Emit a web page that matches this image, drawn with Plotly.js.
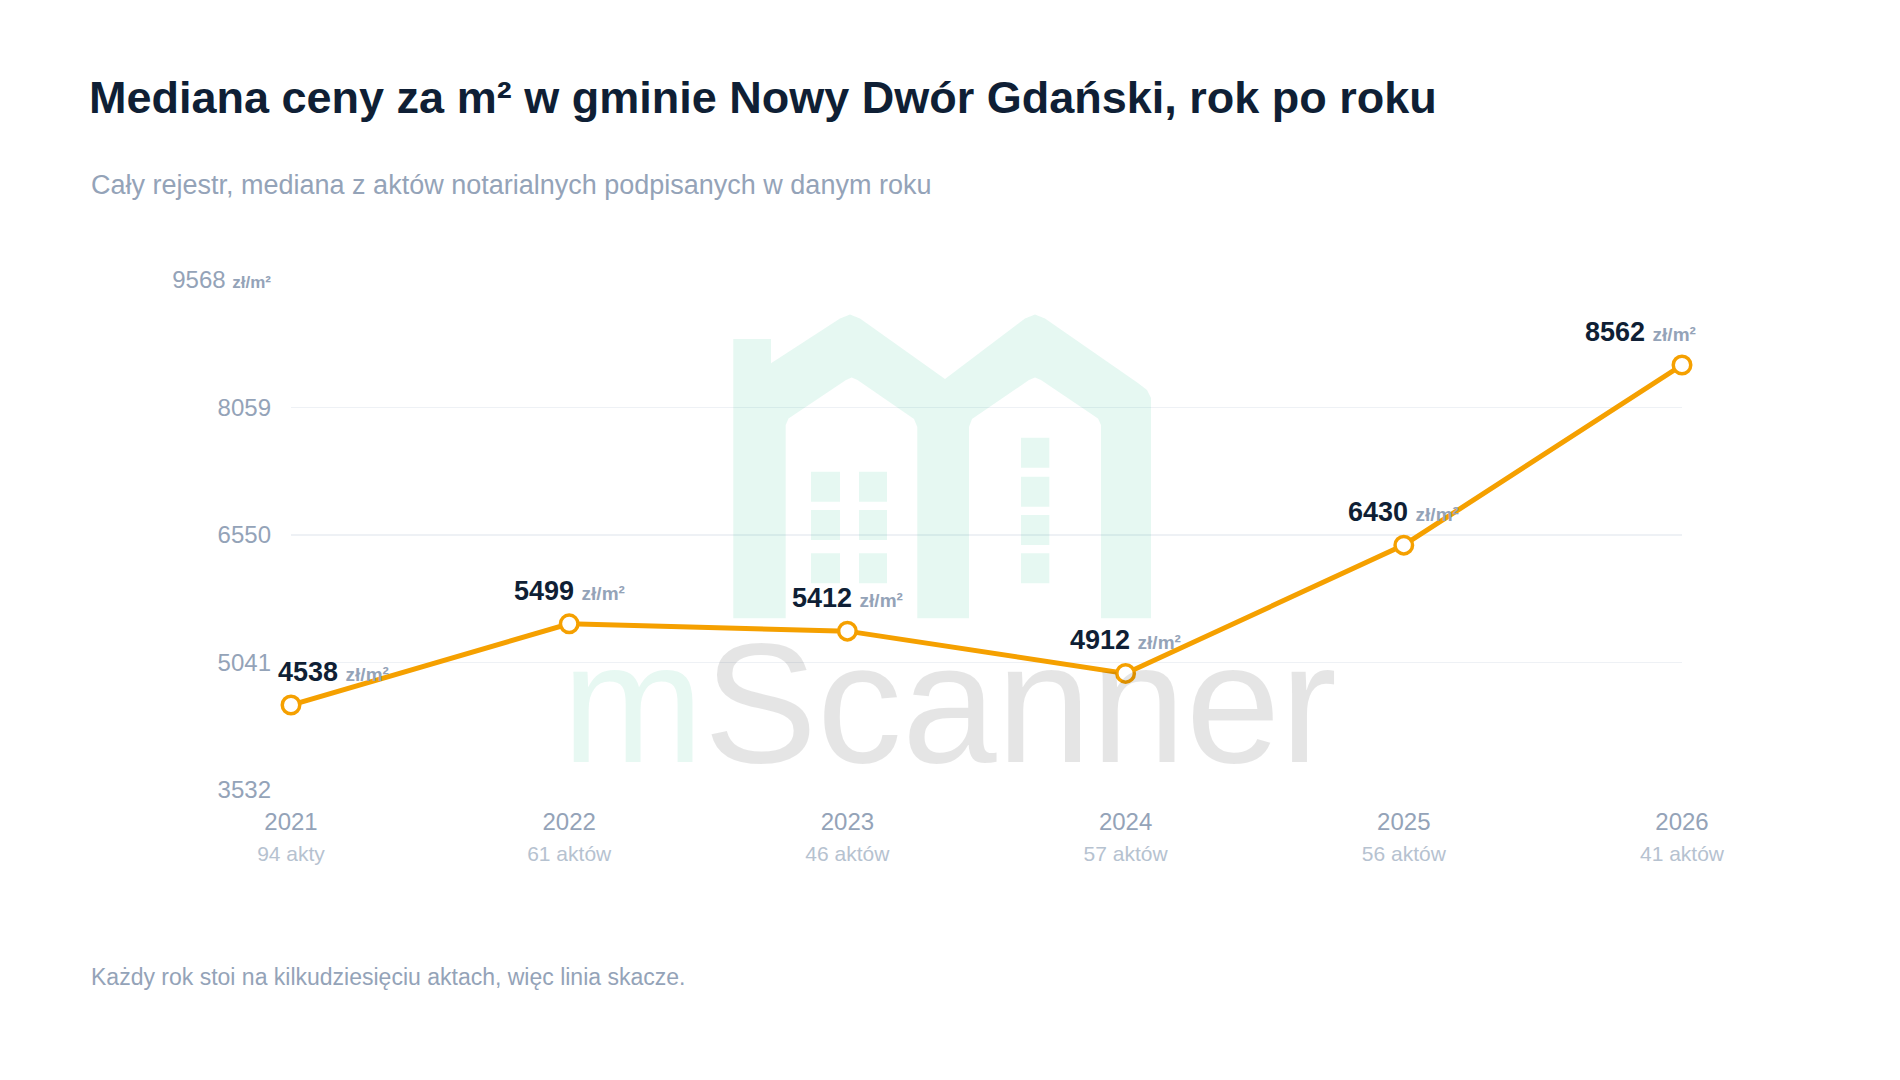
<!DOCTYPE html>
<html><head><meta charset="utf-8">
<script src="https://cdn.plot.ly/plotly-3.0.1.min.js"></script>
<style>html,body{margin:0;padding:0;background:#fff;} #chart{width:1900px;height:1080px;}</style>
</head><body><div id="chart"></div>
<script>
// ---- data ----
const years = [2021, 2022, 2023, 2024, 2025, 2026];
const medianPrice = [4538, 5499, 5412, 4912, 6430, 8562];
const deedCounts = [94, 61, 46, 57, 56, 41];
const deedWords = ['akty', 'aktów', 'aktów', 'aktów', 'aktów', 'aktów'];
const yTickValues = [3532, 5041, 6550, 8059, 9568];
const unitLabel = 'zł/m²';
const titleText = 'Mediana ceny za m² w gminie Nowy Dwór Gdański, rok po roku';
const subtitleText = 'Cały rejestr, mediana z aktów notarialnych podpisanych w danym roku';
const footerText = 'Każdy rok stoi na kilkudziesięciu aktach, więc linia skacze.';
const watermarkText = ['m', 'Scanner'];

// ---- style ----
const FONT = 'Liberation Sans, Arial, Helvetica, sans-serif';
const DARK = '#0f1f35';
const MUTED = '#94a3b8';
const LIGHT = '#b6c2d0';
const ORANGE = '#f5a000';
const MINT_T = 'rgba(16,185,129,0.105)';
const EMERALD = 'rgb(16,185,129)';
const GRAY_T = 'rgba(0,0,0,0.1)';

// layout geometry in pixels
const W = 1900, H = 1080;
const M = {l: 291, r: 218, t: 280, b: 290};
const PW = W - M.l - M.r, PH = H - M.t - M.b;
const px = x => (x - M.l) / PW;
const py = y => (H - M.b - y) / PH;

const yTickText = yTickValues.map((v, i) => i === yTickValues.length - 1
  ? `${v} <span style="font-size:17px;font-weight:bold">${unitLabel}</span>` : `${v}`);
const xTickText = years.map((y, i) =>
  `${y}<br><span style="font-size:21px;fill:${LIGHT}">${deedCounts[i]} ${deedWords[i]}</span>`);

const trace = {
  x: years, y: medianPrice, type: 'scatter', mode: 'lines+markers',
  line: {color: ORANGE, width: 5},
  marker: {size: 17.5, color: '#ffffff', line: {color: ORANGE, width: 3.5}},
  cliponaxis: false, hoverinfo: 'x+y'
};

const last = years.length - 1;
const valueAnnotations = years.map((yr, i) => ({
  x: yr, y: medianPrice[i], xref: 'x', yref: 'y', showarrow: false,
  xanchor: i === 0 ? 'left' : (i === last ? 'right' : 'center'),
  xshift: i === 0 ? -15 : (i === last ? 15.5 : 0),
  yanchor: 'middle', yshift: 33,
  text: `<b>${medianPrice[i]}</b> <span style="font-size:19px;fill:${MUTED}"><b>${unitLabel}</b></span>`,
  font: {family: FONT, size: 27, color: DARK}
}));

// ---- watermark logo (decoration, pixel coordinates) ----
function sub(pts) {
  return 'M ' + pts.map(p => `${px(p[0]).toFixed(5)},${py(p[1]).toFixed(5)}`).join(' L ') + ' Z';
}
function rectPts(x0, x1, y0, y1) { return [[x0, y1], [x0, y0], [x1, y0], [x1, y1]]; }
const BOT = 618.3;
const outer = [[733.3,BOT],[733.3,339],[771,339],[771,363.3],[840,318.5],[850,314.5],[860,318.5],
  [945,379],[1025,318.5],[1035,314.5],[1045,318.5],[1138.3,383.3],[1147,390],[1151,398],[1151,BOT]];
const innerL = [[785.7,BOT],[785.7,425],[788.5,418.5],[846,380],[851.7,377.5],[857.5,380],[914,419],[917.3,427],[917.3,BOT]];
const innerR = [[969,BOT],[969,427],[972,419],[1029,380],[1035,377.5],[1041,380],[1098,418.5],[1101,425],[1101,BOT]];
const winColsL = [[811,840],[859,887]];
const winRowsL = [[471.7,501.7],[510,540],[553.3,583.3]];
const winColR = [1021,1049.3];
const winRowsR = [[437.7,467.7],[476.7,506.7],[515,545],[553.3,583.3]];

let logoPath = sub(outer) + ' ' + sub(innerL.slice().reverse()) + ' ' + sub(innerR.slice().reverse());
winColsL.forEach(c => winRowsL.forEach(r => { logoPath += ' ' + sub(rectPts(c[0], c[1], r[0], r[1])); }));
winRowsR.forEach(r => { logoPath += ' ' + sub(rectPts(winColR[0], winColR[1], r[0], r[1])); });

const shapes = [
  {type: 'path', xref: 'paper', yref: 'paper', path: logoPath, fillcolor: MINT_T,
    line: {width: 0}, layer: 'above'}
];

const layout = {
  width: W, height: H, margin: M, paper_bgcolor: '#ffffff', plot_bgcolor: '#ffffff',
  showlegend: false,
  title: {text: `<b>${titleText}</b>`, x: 89 / W, xref: 'container', xanchor: 'left',
    y: 1 - 97 / H, yref: 'container', yanchor: 'middle', font: {family: FONT, size: 45, color: DARK}},
  xaxis: {range: [years[0], years[last]], tickvals: years, ticktext: xTickText, showgrid: false,
    zeroline: false, showline: false, ticks: '', ticklabelstandoff: 15,
    tickfont: {family: FONT, size: 24, color: MUTED}, fixedrange: true},
  yaxis: {range: [yTickValues[0], yTickValues[yTickValues.length - 1]], tickvals: yTickValues, ticktext: yTickText,
    showgrid: true, gridcolor: '#eef1f5', gridwidth: 1.5, zeroline: false, showline: false, ticks: '',
    ticklabelstandoff: 19, tickfont: {family: FONT, size: 24, color: MUTED}, fixedrange: true},
  shapes: shapes,
  annotations: [
    {text: `<span style="fill:${EMERALD}">${watermarkText[0]}</span>${watermarkText[1]}`,
      xref: 'paper', yref: 'paper', x: px(949.8), y: py(703), xanchor: 'center', yanchor: 'middle',
      showarrow: false, font: {family: FONT, size: 170, color: GRAY_T}}
  ].concat(valueAnnotations).concat([
    {text: subtitleText, xref: 'paper', yref: 'paper', x: px(88.5), y: py(185), xanchor: 'left', yanchor: 'middle',
      showarrow: false, font: {family: FONT, size: 27, color: MUTED}},
    {text: footerText, xref: 'paper', yref: 'paper', x: px(88.5), y: py(977), xanchor: 'left', yanchor: 'middle',
      showarrow: false, font: {family: FONT, size: 23, color: MUTED}}
  ])
};

Plotly.newPlot('chart', [trace], layout, {displayModeBar: false, staticPlot: true});
</script>
</body></html>
